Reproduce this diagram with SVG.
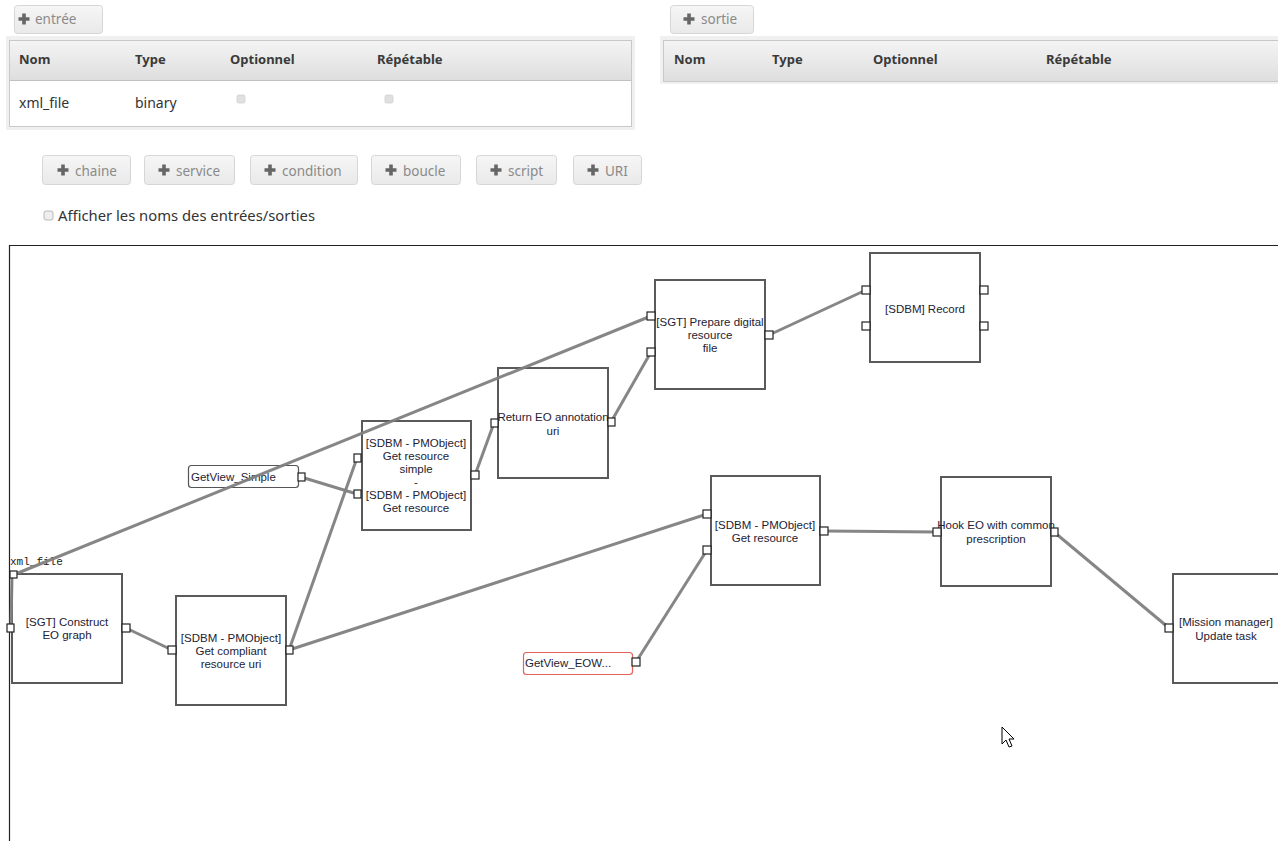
<svg xmlns="http://www.w3.org/2000/svg" width="1278" height="841" viewBox="0 0 1278 841">
<defs>
<linearGradient id="hdr" x1="0" y1="0" x2="0" y2="1">
<stop offset="0" stop-color="#f4f4f4"/>
<stop offset="1" stop-color="#dedede"/>
</linearGradient>
<linearGradient id="btn" x1="0" y1="0" x2="0" y2="1">
<stop offset="0" stop-color="#f6f6f6"/>
<stop offset="1" stop-color="#e9e9e9"/>
</linearGradient>
<path id="plus" d="M-1.8,-5.5h3.6v3.7h3.7v3.6h-3.7v3.7h-3.6v-3.7h-3.7v-3.6h3.7z" fill="#666"/>
</defs>
<style>
.btn{fill:url(#btn);stroke:#d6d6d6;stroke-width:1}
.bt{font-family:"Noto Sans","Open Sans",sans-serif;font-size:13.5px;fill:#8a8a8a}
.th{font-family:"Noto Sans","Open Sans",sans-serif;font-size:13px;font-weight:bold;fill:#3a3a3a}
.td{font-family:"Noto Sans","Open Sans",sans-serif;font-size:14px;fill:#333}
.node{fill:#fff;stroke:#5a5a5a;stroke-width:2}
.lbl{font-family:"Liberation Sans",Arial,sans-serif;font-size:11.5px;fill:#1e2233;text-anchor:middle}
.src{font-family:"Liberation Sans",Arial,sans-serif;font-size:11.5px;fill:#1e2233}
.port{fill:#fff;stroke:#222;stroke-width:1.2}
.conn line{stroke:#7f7f7f;stroke-width:3;fill:none;stroke-linecap:butt;opacity:0.95}
.cb{fill:#e0e0e0;stroke:#d0d0d0;stroke-width:0.8}
</style>
<rect width="1278" height="841" fill="#fff"/>

<g id="ui-top">
<rect class="btn" x="14.5" y="5.5" width="88" height="28" rx="3"/>
<use href="#plus" x="24" y="19"/>
<text class="bt" x="35" y="24">entrée</text>

<rect x="6" y="36" width="629" height="94" fill="#f0f0f0"/>
<rect x="9.5" y="40.5" width="622" height="86" fill="#fff" stroke="#c8c8c8"/>
<rect x="10" y="41" width="621" height="39" fill="url(#hdr)"/>
<line x1="10" y1="80.5" x2="631" y2="80.5" stroke="#c0c0c0"/>
<text class="th" x="19" y="64">Nom</text>
<text class="th" x="135" y="64">Type</text>
<text class="th" x="230" y="64">Optionnel</text>
<text class="th" x="377" y="64">Répétable</text>
<text class="td" x="19" y="108">xml_file</text>
<text class="td" x="135" y="108">binary</text>
<rect class="cb" x="237" y="95" width="8" height="8" rx="1.5"/>
<rect class="cb" x="385" y="95" width="8" height="8" rx="1.5"/>

<rect class="btn" x="670.5" y="5.5" width="83" height="28" rx="3"/>
<use href="#plus" x="689" y="19"/>
<text class="bt" x="701" y="24">sortie</text>

<rect x="660" y="36" width="618" height="48" fill="#f0f0f0"/>
<rect x="663.5" y="40.5" width="620" height="41" fill="url(#hdr)" stroke="#c8c8c8"/>
<text class="th" x="674" y="64">Nom</text>
<text class="th" x="772" y="64">Type</text>
<text class="th" x="873" y="64">Optionnel</text>
<text class="th" x="1046" y="64">Répétable</text>

<rect class="btn" x="42.5" y="155.5" width="88" height="29" rx="3"/>
<use href="#plus" x="63" y="170"/>
<text class="bt" x="75" y="176">chaine</text>
<rect class="btn" x="144.5" y="155.5" width="90" height="29" rx="3"/>
<use href="#plus" x="164" y="170"/>
<text class="bt" x="176" y="176">service</text>
<rect class="btn" x="250.5" y="155.5" width="107" height="29" rx="3"/>
<use href="#plus" x="270" y="170"/>
<text class="bt" x="282" y="176">condition</text>
<rect class="btn" x="371.5" y="155.5" width="89" height="29" rx="3"/>
<use href="#plus" x="391" y="170"/>
<text class="bt" x="403" y="176">boucle</text>
<rect class="btn" x="476.5" y="155.5" width="80" height="29" rx="3"/>
<use href="#plus" x="496" y="170"/>
<text class="bt" x="508" y="176">script</text>
<rect class="btn" x="573.5" y="155.5" width="68" height="29" rx="3"/>
<use href="#plus" x="593" y="170"/>
<text class="bt" x="605" y="176">URI</text>

<rect x="44" y="211" width="9" height="9" rx="2" fill="#eee" stroke="#aaa" stroke-width="0.8"/>
<text x="58" y="221" font-family="Noto Sans,Open Sans,sans-serif" font-size="15" fill="#333" textLength="257" lengthAdjust="spacingAndGlyphs">Afficher les noms des entrées/sorties</text>
</g>

<g id="canvas">
<path d="M9.5,841V245.5H1278" fill="none" stroke="#222" stroke-width="1.2"/>
</g>

<g id="n-construct">
<rect class="node" x="12" y="574" width="110" height="109"/>
<text class="lbl" x="67" y="626">[SGT] Construct</text>
<text class="lbl" x="67" y="639">EO graph</text>
<text x="10" y="565" font-family="Liberation Mono,DejaVu Sans Mono,monospace" font-size="11" fill="#222">xml_file</text>
</g>

<g id="n-compliant">
<rect class="node" x="176" y="596" width="110" height="109"/>
<text class="lbl" x="231" y="642">[SDBM - PMObject]</text>
<text class="lbl" x="231" y="655">Get compliant</text>
<text class="lbl" x="231" y="668">resource uri</text>
</g>

<g id="n-getview-simple">
<rect x="188.5" y="465.5" width="110" height="22" rx="3" fill="#fff" stroke="#555" stroke-width="1.2"/>
<text class="src" x="191" y="481">GetView_Simple</text>
</g>

<g id="n-getres-simple">
<rect class="node" x="362" y="421" width="109" height="109"/>
<text class="lbl" x="416" y="447">[SDBM - PMObject]</text>
<text class="lbl" x="416" y="460">Get resource</text>
<text class="lbl" x="416" y="473">simple</text>
<text class="lbl" x="416" y="486">-</text>
<text class="lbl" x="416" y="499">[SDBM - PMObject]</text>
<text class="lbl" x="416" y="512">Get resource</text>
</g>

<g id="n-return">
<rect class="node" x="498" y="368" width="110" height="110"/>
<text class="lbl" x="553" y="421">Return EO annotation</text>
<text class="lbl" x="553" y="435">uri</text>
</g>

<g id="n-prepare">
<rect class="node" x="655" y="280" width="110" height="109"/>
<text class="lbl" x="710" y="326">[SGT] Prepare digital</text>
<text class="lbl" x="710" y="339">resource</text>
<text class="lbl" x="710" y="352">file</text>
</g>

<g id="n-record">
<rect class="node" x="870" y="253" width="110" height="109"/>
<text class="lbl" x="925" y="313">[SDBM] Record</text>
</g>

<g id="n-getres">
<rect class="node" x="711" y="476" width="109" height="109"/>
<text class="lbl" x="765" y="529">[SDBM - PMObject]</text>
<text class="lbl" x="765" y="542">Get resource</text>
</g>

<g id="n-getview-eow">
<rect x="523.5" y="652.5" width="109" height="22" rx="3" fill="#fff" stroke="#e8605a" stroke-width="1.2"/>
<text class="src" x="525" y="667">GetView_EOW...</text>
</g>

<g id="n-hook">
<rect class="node" x="941" y="477" width="110" height="109"/>
<text class="lbl" x="996" y="529">Hook EO with common</text>
<text class="lbl" x="996" y="543">prescription</text>
</g>

<g id="n-mission">
<rect class="node" x="1173" y="574" width="112" height="109"/>
<text class="lbl" x="1226" y="626">[Mission manager]</text>
<text class="lbl" x="1226" y="640">Update task</text>
</g>

<g class="conn" id="connectors">
<line x1="13" y1="575" x2="651" y2="316"/>
<line x1="12" y1="576" x2="11" y2="628"/>
<line x1="126" y1="628" x2="172" y2="650"/>
<line x1="289" y1="650" x2="357" y2="458"/>
<line x1="289" y1="650" x2="707" y2="514"/>
<line x1="301" y1="477" x2="357" y2="494"/>
<line x1="475" y1="475" x2="494" y2="423"/>
<line x1="611" y1="422" x2="651" y2="352"/>
<line x1="769" y1="335" x2="866" y2="290"/>
<line x1="636" y1="662" x2="707" y2="550"/>
<line x1="824" y1="531" x2="937" y2="532"/>
<line x1="1054" y1="532" x2="1169" y2="628"/>
</g>

<g id="ports">
<g id="p-construct">
<rect class="port" x="10" y="571" width="7" height="7"/>
<rect class="port" x="7" y="624" width="7" height="8"/>
<rect class="port" x="122" y="624" width="8" height="8"/>
</g>
<g id="p-compliant">
<rect class="port" x="168" y="646" width="8" height="8"/>
<rect class="port" x="286" y="646" width="7" height="8"/>
</g>
<g id="p-getview-simple">
<rect class="port" x="298" y="473" width="7" height="8"/>
</g>
<g id="p-getres-simple">
<rect class="port" x="354" y="454" width="7" height="8"/>
<rect class="port" x="354" y="490" width="7" height="8"/>
<rect class="port" x="471" y="471" width="8" height="8"/>
</g>
<g id="p-return">
<rect class="port" x="491" y="419" width="7" height="8"/>
<rect class="port" x="608" y="418" width="7" height="8"/>
</g>
<g id="p-prepare">
<rect class="port" x="647" y="312" width="8" height="8"/>
<rect class="port" x="647" y="348" width="8" height="8"/>
<rect class="port" x="765" y="331" width="8" height="8"/>
</g>
<g id="p-record">
<rect class="port" x="862" y="286" width="8" height="8"/>
<rect class="port" x="862" y="322" width="8" height="8"/>
<rect class="port" x="980" y="286" width="8" height="8"/>
<rect class="port" x="980" y="322" width="8" height="8"/>
</g>
<g id="p-getres">
<rect class="port" x="703" y="510" width="8" height="8"/>
<rect class="port" x="703" y="546" width="8" height="8"/>
<rect class="port" x="820" y="527" width="8" height="8"/>
</g>
<g id="p-getview-eow">
<rect class="port" x="632" y="658" width="8" height="8"/>
</g>
<g id="p-hook">
<rect class="port" x="933" y="528" width="8" height="8"/>
<rect class="port" x="1051" y="528" width="7" height="8"/>
</g>
<g id="p-mission">
<rect class="port" x="1165" y="624" width="8" height="8"/>
</g>
</g>

<polygon points="1002,727 1002,744 1006,740 1009,747 1012,746 1009,739 1014,739" fill="#fff" stroke="#000" stroke-width="1" stroke-linejoin="round"/>
</svg>
